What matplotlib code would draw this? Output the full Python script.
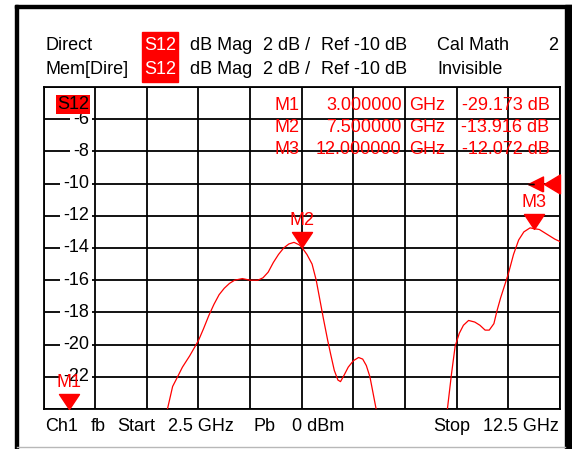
import matplotlib
matplotlib.use("Agg")
import matplotlib.pyplot as plt
import numpy as np
from matplotlib.patches import Rectangle
from matplotlib.lines import Line2D
from matplotlib.transforms import Affine2D, ScaledTranslation, blended_transform_factory

# trace (S12, dB Mag)
freq_ghz = [2.50, 2.60, 3.00, 3.50, 4.00, 4.50, 4.90, 5.00, 5.08, 5.19, 5.33, 5.50,
            5.60, 5.70, 5.80, 5.90, 6.00, 6.10, 6.20, 6.35, 6.50, 6.65, 6.75, 6.85,
            6.95, 7.05, 7.15, 7.25, 7.35, 7.45, 7.50, 7.60, 7.70, 7.78, 7.85, 7.92,
            8.00, 8.06, 8.13, 8.20, 8.25, 8.32, 8.40, 8.50, 8.60, 8.68, 8.75, 8.82,
            8.88, 8.94, 9.20, 9.70, 10.10, 10.32, 10.40, 10.47, 10.55, 10.63, 10.73,
            10.85, 10.95, 11.05, 11.13, 11.22, 11.28, 11.35, 11.40, 11.50, 11.60,
            11.70, 11.80, 11.92, 12.00, 12.10, 12.20, 12.30, 12.40, 12.50]
s12_db = [-24.0, -25.5, -29.17, -31.0, -30.0, -27.0, -24.0, -22.6, -22.1, -21.4, -20.7, -19.75,
          -19.0, -18.2, -17.5, -16.9, -16.5, -16.2, -16.0, -15.9, -16.0, -16.0, -15.85, -15.5,
          -14.9, -14.4, -14.0, -13.75, -13.65, -13.8, -13.95, -14.4, -15.0, -16.0, -17.2, -18.4,
          -19.7, -20.6, -21.6, -22.2, -22.3, -21.9, -21.4, -21.0, -20.8, -20.9, -21.3, -22.0,
          -23.0, -24.0, -27.0, -29.0, -27.0, -24.0, -21.8, -20.1, -19.3, -18.8, -18.5,
          -18.6, -18.8, -19.1, -19.1, -18.7, -17.9, -17.1, -16.6, -15.6, -14.4,
          -13.5, -13.0, -12.75, -12.8, -12.85, -13.05, -13.25, -13.45, -13.6]

marker_names = ["M1", "M2", "M3"]
marker_freq = [3.0, 7.5, 12.0]
marker_db = [-29.173, -13.916, -12.072]

start_ghz, stop_ghz = 2.5, 12.5
ref_db = -10
db_per_div = 2
y_ticks = [-6, -8, -10, -12, -14, -16, -18, -20, -22]

W, H = 572, 449
RED = "#ff0000"
plt.rcParams["font.family"] = ["Liberation Sans", "DejaVu Sans"]
plt.rcParams["font.size"] = 13

fig = plt.figure(figsize=(W / 100, H / 100), dpi=100)
# pixel coords, origin top-left
pix = Affine2D().scale(1 / W, -1 / H).translate(0, 1) + fig.transFigure

# instrument frame
fig.add_artist(Rectangle((14.5, 4.5), 557.5, 3, transform=pix, color="black"))
fig.add_artist(Rectangle((14.5, 4.5), 3, 445, transform=pix, color="black"))
fig.add_artist(Rectangle((565, 4.5), 7, 445, transform=pix, color="black"))
fig.add_artist(Line2D([17, 565], [447, 447], transform=pix, color="#b8b8b8", lw=1))

gl, gr, gt, gb = 43.5, 560, 87, 409
ax = fig.add_axes([gl / W, 1 - gb / H, (gr - gl) / W, (gb - gt) / H])
ax.set_xlim(start_ghz, stop_ghz)
ax.set_ylim(ref_db - 7 * db_per_div, ref_db + 3 * db_per_div)
ax.set_xticks(np.arange(start_ghz, stop_ghz + 0.01, 1.0))
ax.set_yticks(np.arange(ref_db - 7 * db_per_div, ref_db + 3 * db_per_div + 0.1, db_per_div))
ax.grid(True, color="black", linewidth=1.3)
ax.tick_params(length=0, labelbottom=False, labelleft=False)
for s in ax.spines.values():
    s.set_linewidth(1.3)
    s.set_color("black")

ax.plot(freq_ghz, s12_db, color=RED, lw=0.9, zorder=3)

# y labels sit inside the grid with a white patch
lab_tr = blended_transform_factory(ax.transAxes, ax.transData)
for t in y_ticks:
    ax.text((89 - gl) / (gr - gl), t, str(t), transform=lab_tr, ha="right", va="center",
            color="black", zorder=4,
            bbox=dict(boxstyle="square,pad=0.15", fc="white", ec="none"))

fig.text(73, 104.5, "S12", transform=pix, ha="center", va="center", color="black", zorder=5,
         bbox=dict(boxstyle="square,pad=0.08", fc=RED, ec="none"))

# markers
ylo = ax.get_ylim()[0]
tri_down = [(0, 0), (-0.667, 1), (0.667, 1), (0, 0)]
for name, f in zip(marker_names, marker_freq):
    y = max(np.interp(f, freq_ghz, s12_db), ylo)
    ax.plot([f], [y], marker=tri_down, ms=21.6, color=RED, mec=RED, clip_on=False, zorder=5)
    ax.annotate(name, (f, y), xytext=(0, 19), textcoords="offset points", ha="center",
                va="center", color=RED, zorder=5, annotation_clip=False)

# reference level arrows on right edge
tri_left = [(0, -0.6), (0, 0.6), (-1, 0), (0, -0.6)]
ax.plot([stop_ghz], [ref_db], marker=tri_left, ms=23, color=RED, mec=RED, clip_on=False, zorder=5)
small_tr = ax.transData + ScaledTranslation(-0.17, 0, fig.dpi_scale_trans)
ax.plot([stop_ghz], [ref_db], marker=[(0, -0.5), (0, 0.5), (-1, 0), (0, -0.5)], ms=21.6,
        color=RED, mec=RED, clip_on=False, zorder=5, transform=small_tr)
dash_tr = ax.transData + ScaledTranslation(-0.29, 0, fig.dpi_scale_trans)
ax.plot([stop_ghz, stop_ghz], [ref_db, ref_db], color="black", lw=1.3, zorder=6,
        transform=dash_tr, clip_on=False, marker="_", ms=4, mec="black")

# marker readout table
rows_y = [105, 127.5, 150]
for name, f, v, yy in zip(marker_names, marker_freq, marker_db, rows_y):
    fig.text(274, yy, name, transform=pix, ha="left", va="center", color=RED)
    fig.text(401.5, yy, f"{f:.6f}", transform=pix, ha="right", va="center", color=RED)
    fig.text(409, yy, "GHz", transform=pix, ha="left", va="center", color=RED)
    fig.text(549.5, yy, f"{v:.3f} dB", transform=pix, ha="right", va="center", color=RED)

# header lines
fig.add_artist(Rectangle((141.7, 31.7), 36.6, 50, transform=pix, color=RED))
hdr = [(45, "Direct", "Cal Math"), (70, "Mem[Dire]", "Invisible")]
for yy, name, state in hdr:
    fig.text(45.6, yy, name, transform=pix, ha="left", va="center")
    fig.text(160, yy, "S12", transform=pix, ha="center", va="center", color="white")
    fig.text(189.8, yy, "dB Mag", transform=pix, ha="left", va="center")
    fig.text(262.8, yy, f"{db_per_div} dB /", transform=pix, ha="left", va="center")
    fig.text(321, yy, f"Ref {ref_db} dB", transform=pix, ha="left", va="center")
    fig.text(437, yy, state, transform=pix, ha="left", va="center")
fig.text(558.4, 45, "2", transform=pix, ha="right", va="center")

# footer
by = 426.7
fig.text(45.6, by, "Ch1", transform=pix, ha="left", va="center")
fig.text(91.2, by, "fb", transform=pix, ha="left", va="center")
fig.text(117.5, by, "Start", transform=pix, ha="left", va="center")
fig.text(167.9, by, f"{start_ghz} GHz", transform=pix, ha="left", va="center")
fig.text(253.6, by, "Pb", transform=pix, ha="left", va="center")
fig.text(292, by, "0 dBm", transform=pix, ha="left", va="center")
fig.text(433.6, by, "Stop", transform=pix, ha="left", va="center")
fig.text(558.4, by, f"{stop_ghz} GHz", transform=pix, ha="right", va="center")

fig.savefig("out.png", dpi=100)
